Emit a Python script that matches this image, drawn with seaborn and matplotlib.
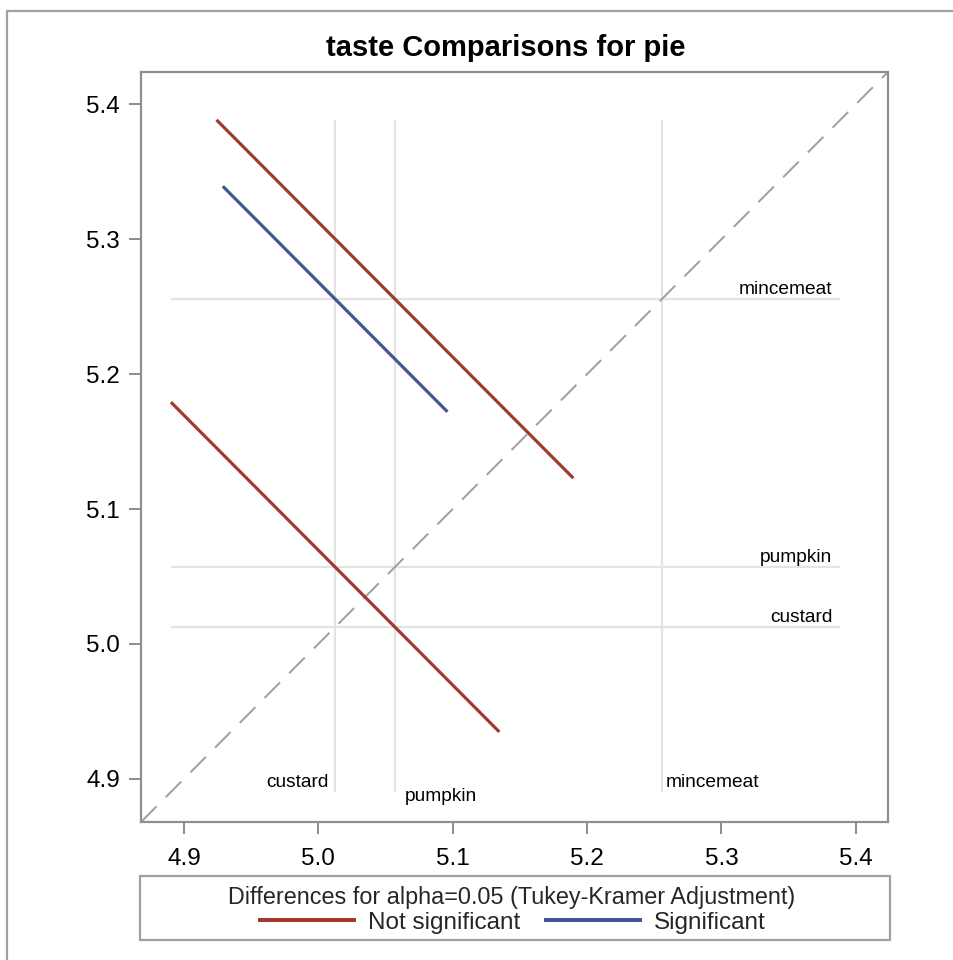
import numpy as np
import pandas as pd
import matplotlib
matplotlib.use("Agg")
import matplotlib.pyplot as plt
import seaborn as sns
from matplotlib.patches import Rectangle
from matplotlib.lines import Line2D

# ---------------- data ----------------
groups = ["custard", "pumpkin", "mincemeat"]
group_means = [5.0125, 5.0570, 5.2557]
pair_x = ["pumpkin", "custard", "custard"]
pair_y = ["mincemeat", "mincemeat", "pumpkin"]
pair_halfwidth = [0.1328, 0.0836, 0.1222]
pair_status = ["Not significant", "Significant", "Not significant"]
tick_values = [4.9, 5.0, 5.1, 5.2, 5.3, 5.4]
axis_range = [4.868, 5.424]
title_text = "taste Comparisons for pie"
legend_title = "Differences for alpha=0.05 (Tukey-Kramer Adjustment)"
status_order = ["Not significant", "Significant"]
status_colors = {"Not significant": "#A23A2E", "Significant": "#445694"}

# ---------------- style ----------------
sns.set_style("white")
plt.rcParams["font.family"] = ["Liberation Sans", "DejaVu Sans"]

W, H, DPI = 954, 960, 100
PX = 72.0 / DPI  # points per pixel

fig = plt.figure(figsize=(W / DPI, H / DPI), dpi=DPI)
ax = fig.add_axes([141 / W, 1 - 822 / H, 747 / W, 750 / H])

mean_of = dict(zip(groups, group_means))

rows = []
for k, (gx, gy, h, st) in enumerate(zip(pair_x, pair_y, pair_halfwidth, pair_status)):
    mx, my = mean_of[gx], mean_of[gy]
    rows.append({"pair": k, "x": mx - h, "y": my + h, "status": st})
    rows.append({"pair": k, "x": mx + h, "y": my - h, "status": st})
seg = pd.DataFrame(rows)

lo = min(seg["x"].min(), seg["y"].min())
hi = max(seg["x"].max(), seg["y"].max())

ref_color = "#E3E3E3"
for g, m in zip(groups, group_means):
    ax.plot([m, m], [lo, hi], color=ref_color, lw=2.2 * PX, zorder=1, solid_capstyle="butt")
    ax.plot([lo, hi], [m, m], color=ref_color, lw=2.2 * PX, zorder=1, solid_capstyle="butt")

# diagonal
lw_d = 2.0 * PX
ax.plot(axis_range, axis_range, color="#A0A0A0", lw=lw_d,
        linestyle=(0, (22 * PX / lw_d, 13 * PX / lw_d)), zorder=2)

sns.lineplot(data=seg, x="x", y="y", hue="status", hue_order=status_order,
             units="pair", estimator=None, sort=False, palette=status_colors,
             lw=3.2 * PX, ax=ax, zorder=3, legend=True)
for ln in ax.get_lines():
    ln.set_solid_capstyle("butt")
handles, labels = ax.get_legend_handles_labels()
if ax.get_legend() is not None:
    ax.get_legend().remove()

# group labels on reference lines
lab_fs = 13.8
for g, m in zip(groups, group_means):
    ax.annotate(g, xy=(hi, m), xytext=(-8 * PX, 5 * PX), textcoords="offset points",
                ha="right", va="baseline", fontsize=lab_fs, color="black")
vert_label_style = {
    "custard": dict(xytext=(-7 * PX, 5 * PX), ha="right", va="baseline"),
    "pumpkin": dict(xytext=(10 * PX, 4 * PX), ha="left", va="top"),
    "mincemeat": dict(xytext=(4 * PX, 5 * PX), ha="left", va="baseline"),
}
for g, m in zip(groups, group_means):
    st = vert_label_style[g]
    ax.annotate(g, xy=(m, lo), textcoords="offset points", fontsize=lab_fs,
                color="black", **st)

ax.set_xlim(axis_range)
ax.set_ylim(axis_range)
ax.set_xticks(tick_values)
ax.set_yticks(tick_values)
ax.set_xticklabels([f"{v:.1f}" for v in tick_values])
ax.set_yticklabels([f"{v:.1f}" for v in tick_values])
ax.set_xlabel("")
ax.set_ylabel("")
frame_c = "#8F8F8F"
for sp in ax.spines.values():
    sp.set_color(frame_c)
    sp.set_linewidth(2.2 * PX)
    sp.set_visible(True)
ax.tick_params(axis="both", which="both", direction="out", length=12 * PX,
               width=2.0 * PX, color=frame_c, labelsize=17.5, labelcolor="black")
ax.tick_params(axis="x", pad=14 * PX, bottom=True)
ax.tick_params(axis="y", pad=9 * PX, left=True)

# title
fig.text(506 / W, 1 - 48 / H, title_text, ha="center", va="center",
         fontsize=21, fontweight="bold", color="black")

# legend box
fig.patches.append(Rectangle((140 / W, 1 - 940 / H), 750 / W, 64 / H,
                             transform=fig.transFigure, fill=False,
                             edgecolor="#A0A0A0", lw=2.2 * PX))
leg = fig.legend(handles, labels, loc="center", bbox_to_anchor=(512 / W, 1 - 910 / H),
                 ncol=2, frameon=False, title=legend_title, fontsize=17.5,
                 title_fontsize=16.8, handlelength=98 / (17.5 / PX),
                 handletextpad=12 / (17.5 / PX), columnspacing=24 / (17.5 / PX),
                 borderpad=0.0, labelspacing=0.1)
for lh in leg.get_lines():
    lh.set_linewidth(4.0 * PX)

# outer border (left and top)
fig.add_artist(Line2D([7 / W, 7 / W], [0, 1 - 11 / H], transform=fig.transFigure,
                      color="#A0A0A0", lw=2.2 * PX))
fig.add_artist(Line2D([7 / W, 1], [1 - 11 / H, 1 - 11 / H], transform=fig.transFigure,
                      color="#A0A0A0", lw=2.2 * PX))

fig.savefig("out.png", dpi=DPI)
